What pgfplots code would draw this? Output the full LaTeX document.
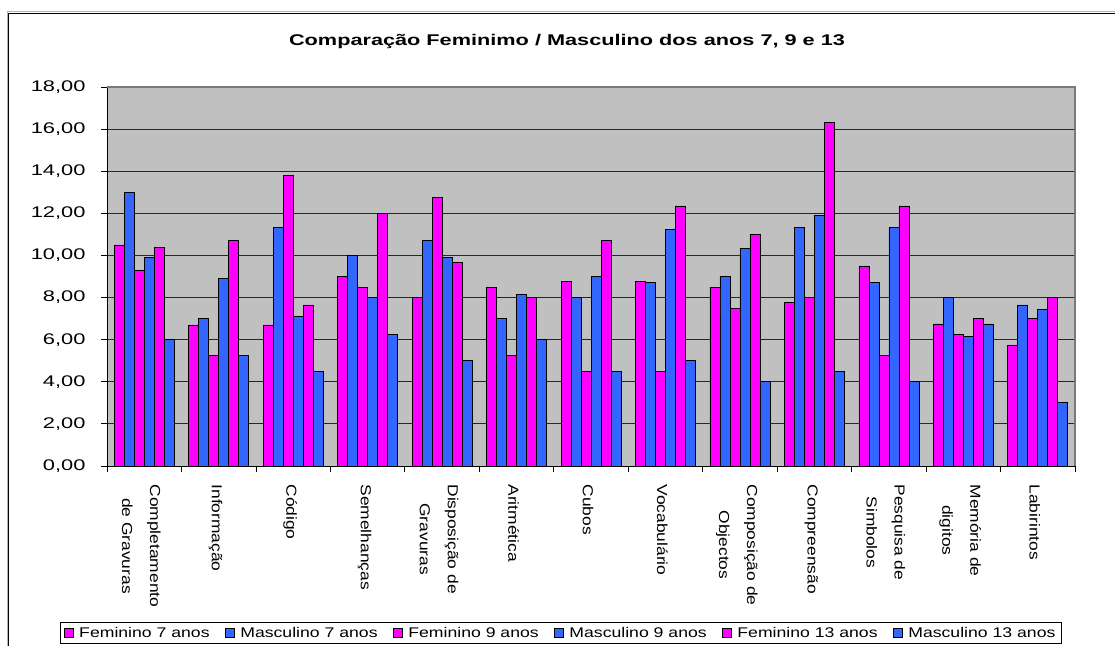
\documentclass[border=0pt]{standalone}
\usepackage{pgfplots}
\pgfplotsset{compat=1.18}
\usepackage{fontspec}
\setmainfont{Liberation Sans}
\newfontfamily\titlefont[FakeStretch=1.4]{Liberation Sans}
\newfontfamily\ytfont[FakeStretch=1.42]{Liberation Sans}
\newfontfamily\xtfont[FakeStretch=1.2]{Liberation Sans}
\newfontfamily\lgfont[FakeStretch=1.26]{Liberation Sans}
\definecolor{fem}{HTML}{FF00FF}
\definecolor{mas}{HTML}{3366FF}
\definecolor{plotbg}{HTML}{C0C0C0}
\begin{document}
\begin{tikzpicture}[x=1bp,y=1bp]
\useasboundingbox (0,0) rectangle (1115,646);
\fill[white] (0,0) rectangle (1115,646);
\draw[gray!60, line width=1bp] (7,-5) -- (7,634) -- (1120,634);
\draw[black, line width=1.3bp] (8.5,-5) -- (8.5,632.5) -- (1120,632.5);
\node[font={\titlefont\bfseries\fontsize{15.5bp}{18bp}\selectfont}] at (567,604) {Comparação Feminimo / Masculino dos anos 7, 9 e 13};
\begin{axis}[
  at={(107bp,180bp)}, anchor=south west,
  scale only axis, width=968bp, height=379bp,
  xmin=-0.5, xmax=12.5, ymin=0, ymax=18,
  clip=false,
  axis background/.style={fill=plotbg},
  axis line style={black, line width=0.9bp},
  ymajorgrids, grid style={black!85, line width=0.8bp},
  ytick={0,2,...,18},
  ytick pos=left,
  tick align=outside, major tick length=6bp,
  ytick style={black, line width=0.8bp},
  xtick style={draw=none},
  xtick={0,...,12},
  xticklabels={{Completamento\\de Gravuras},Informação,Código,Semelhanças,{Disposição de\\Gravuras},Aritmética,Cubos,Vocabulário,{Composição de\\Objectos},Compreensão,{Pesquisa de\\Simbolos},{Memória de\\digitos},Labirintos},
  xticklabel style={font={\xtfont\fontsize{14.5bp}{28bp}\selectfont}, xshift=-3bp, yshift=-9bp, rotate=-90, anchor=west, align=center},
  scaled y ticks=false,
  yticklabel style={font={\ytfont\fontsize{15.4bp}{18bp}\selectfont}, xshift=-12bp,
    /pgf/number format/fixed, /pgf/number format/fixed zerofill,
    /pgf/number format/precision=2, /pgf/number format/use comma,
    /pgf/number format/assume math mode=true},
  legend columns=6,
  legend style={at={(0.469,-0.4406)}, anchor=center, draw=black, line width=0.8bp,
    font={\lgfont\fontsize{14bp}{16bp}\selectfont},
    nodes={inner xsep=3bp, inner ysep=2.5bp},
    /tikz/every odd column/.append style={column sep=3bp},
    /tikz/every even column/.append style={column sep=12bp}},
  legend image code/.code={\draw[#1, draw=black, line width=0.7bp] (0bp,-4.5bp) rectangle (9bp,4.5bp);},
]
\addplot[ybar, bar width=10bp, bar shift=-25bp, fill=fem, draw=black, line width=0.7bp] coordinates {(0,10.5) (1,6.7) (2,6.7) (3,9.0) (4,8.0) (5,8.5) (6,8.75) (7,8.75) (8,8.5) (9,7.75) (10,9.5) (11,6.75) (12,5.75)};
\addplot[ybar, bar width=10bp, bar shift=-15bp, fill=mas, draw=black, line width=0.7bp] coordinates {(0,13.0) (1,7.0) (2,11.35) (3,10.0) (4,10.7) (5,7.0) (6,8.0) (7,8.7) (8,9.0) (9,11.35) (10,8.7) (11,8.0) (12,7.65)};
\addplot[ybar, bar width=10bp, bar shift=-5bp, fill=fem, draw=black, line width=0.7bp] coordinates {(0,9.3) (1,5.25) (2,13.8) (3,8.5) (4,12.75) (5,5.25) (6,4.5) (7,4.5) (8,7.5) (9,8.0) (10,5.25) (11,6.25) (12,7.0)};
\addplot[ybar, bar width=10bp, bar shift=5bp, fill=mas, draw=black, line width=0.7bp] coordinates {(0,9.9) (1,8.9) (2,7.1) (3,8.0) (4,9.9) (5,8.15) (6,9.0) (7,11.25) (8,10.35) (9,11.9) (10,11.35) (11,6.15) (12,7.45)};
\addplot[ybar, bar width=10bp, bar shift=15bp, fill=fem, draw=black, line width=0.7bp] coordinates {(0,10.4) (1,10.7) (2,7.65) (3,12.0) (4,9.65) (5,8.0) (6,10.7) (7,12.35) (8,11.0) (9,16.3) (10,12.35) (11,7.0) (12,8.0)};
\addplot[ybar, bar width=10bp, bar shift=25bp, fill=mas, draw=black, line width=0.7bp] coordinates {(0,6.0) (1,5.25) (2,4.5) (3,6.25) (4,5.0) (5,6.0) (6,4.5) (7,5.0) (8,4.0) (9,4.5) (10,4.0) (11,6.75) (12,3.0)};
\legend{Feminino 7 anos, Masculino 7 anos, Feminino 9 anos, Masculino 9 anos, Feminino 13 anos, Masculino 13 anos}
\draw[gray!95!black, line width=1.3bp] (rel axis cs:0,1) -- (rel axis cs:1,1) -- (rel axis cs:1,0);
\draw[black, line width=0.9bp] (rel axis cs:0,0) -- (rel axis cs:1,0);
\pgfplotsinvokeforeach{-0.5,0.5,1.5,2.5,3.5,4.5,5.5,6.5,7.5,8.5,9.5,10.5,11.5,12.5}{
  \draw[black, line width=0.8bp] (axis cs:#1,0) -- ++(0bp,-6bp);
}
\end{axis}
\end{tikzpicture}
\end{document}
